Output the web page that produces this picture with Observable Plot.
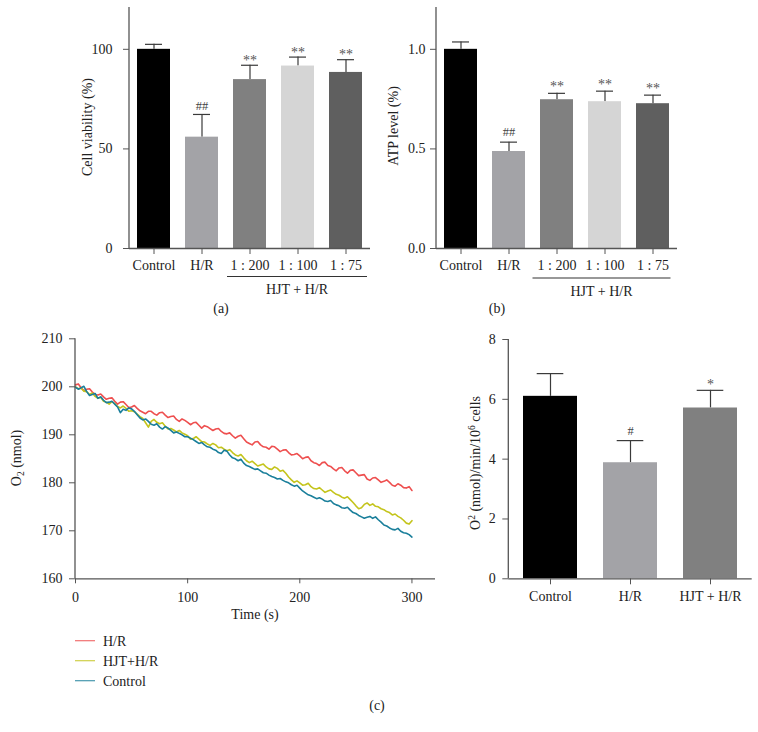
<!DOCTYPE html>
<html><head><meta charset="utf-8">
<script src="https://cdn.jsdelivr.net/npm/d3@7"></script>
<script src="https://cdn.jsdelivr.net/npm/@observablehq/plot@0.6"></script>
<style>
body{margin:0;background:#fff;}
#fig{position:relative;width:758px;height:732px;font-family:"Liberation Serif","Times New Roman",serif;color:#222;overflow:hidden;background:#fff;}
.panel{position:absolute;}
.lab{position:absolute;font-size:14px;transform:translate(-50%,-50%);white-space:nowrap;color:#222;}
</style></head><body><div id="fig"></div>
<script>
// ---------- data ----------
const barCats = ["Control", "H/R", "1 : 200", "1 : 100", "1 : 75"];
const barColors = ["#000000", "#a3a3a7", "#808080", "#d5d5d5", "#5f5f5f"];
const viability = [100, 55.9, 84.8, 91.6, 88.4];
const viabilityErr = [102.5, 67.3, 92.0, 96.1, 94.8];
const viabilitySig = ["", "##", "**", "**", "**"];
const atp = [1.0, 0.487, 0.747, 0.737, 0.727];
const atpErr = [1.037, 0.534, 0.779, 0.79, 0.77];
const atpSig = ["", "##", "**", "**", "**"];
const groupLabel = "HJT + H/R";

const o2Cats = ["Control", "H/R", "HJT + H/R"];
const o2Colors = ["#000000", "#a3a3a7", "#808080"];
const o2Rate = [6.1, 3.88, 5.71];
const o2RateErr = [6.86, 4.62, 6.3];
const o2Sig = ["", "#", "*"];

const timeS = [0,2.5,5,7.5,10,12.5,15,17.5,20,22.5,
  25,27.5,30,32.5,35,37.5,40,42.5,45,47.5,
  50,52.5,55,57.5,60,62.5,65,67.5,70,72.5,
  75,77.5,80,82.5,85,87.5,90,92.5,95,97.5,
  100,102.5,105,107.5,110,112.5,115,117.5,120,122.5,
  125,127.5,130,132.5,135,137.5,140,142.5,145,147.5,
  150,152.5,155,157.5,160,162.5,165,167.5,170,172.5,
  175,177.5,180,182.5,185,187.5,190,192.5,195,197.5,
  200,202.5,205,207.5,210,212.5,215,217.5,220,222.5,
  225,227.5,230,232.5,235,237.5,240,242.5,245,247.5,
  250,252.5,255,257.5,260,262.5,265,267.5,270,272.5,
  275,277.5,280,282.5,285,287.5,290,292.5,295,297.5,
  300];
const o2HR = [200.4,200.6,199.8,199.2,199.5,199.6,198.9,198.4,198.3,198.5,
  197.9,197.4,197.6,197.7,197.0,196.4,196.8,196.9,196.3,195.7,
  195.8,196.1,195.5,195.0,194.7,194.4,194.9,194.9,194.4,194.1,
  194.6,194.7,194.1,193.6,193.8,193.9,193.2,192.8,193.3,193.0,
  192.6,192.1,192.5,192.6,192.0,191.4,191.9,191.7,191.3,190.9,
  191.2,191.3,190.7,190.3,190.2,190.4,189.8,189.3,189.7,189.9,
  189.2,188.5,188.2,187.9,188.5,188.6,187.9,187.5,187.4,187.0,
  187.6,187.5,187.0,186.5,186.8,186.9,186.3,185.8,185.9,186.1,
  185.6,185.0,185.3,185.4,184.6,184.2,184.0,183.6,184.2,184.3,
  183.6,183.4,182.9,182.5,183.1,183.2,182.5,182.0,182.6,182.7,
  182.1,181.5,181.6,181.7,180.8,180.5,181.0,181.1,180.6,180.1,
  180.3,180.6,180.1,179.5,179.3,179.8,179.5,179.0,178.9,179.2,
  178.4];
const o2HJT = [200.0,199.6,199.7,199.1,199.0,198.4,198.7,198.0,197.6,197.8,
  197.0,196.8,196.4,196.9,196.5,195.9,195.6,196.0,195.5,194.9,
  195.0,194.8,194.3,193.8,193.4,192.5,191.6,192.8,193.2,192.6,
  192.3,192.5,191.8,191.2,191.3,191.0,190.6,190.9,190.4,190.1,
  189.8,189.1,189.2,189.6,189.1,188.6,188.5,188.1,187.8,188.2,
  187.9,187.3,187.4,187.0,186.7,186.9,186.3,185.8,185.6,185.9,
  185.2,184.6,184.2,184.5,184.0,183.5,183.7,183.9,183.3,182.9,
  182.8,183.3,183.0,182.4,182.6,182.0,181.2,180.6,180.1,180.4,
  180.0,179.5,179.6,179.9,179.2,178.8,178.7,179.0,178.5,178.0,
  178.3,178.5,178.0,177.6,177.4,177.0,176.8,177.1,176.5,175.9,
  175.2,174.6,174.8,175.5,175.8,175.3,175.6,175.1,175.0,174.6,
  174.4,174.0,173.8,173.3,173.5,173.0,172.7,172.2,171.6,171.4,
  172.1];
const o2Control = [199.9,199.5,199.8,200.1,199.0,198.2,198.4,198.6,197.6,197.9,
  197.2,196.7,196.8,197.0,196.4,195.8,194.6,195.3,195.1,195.6,
  195.4,194.9,194.2,193.5,193.1,193.3,192.8,192.2,192.0,192.3,
  191.6,191.2,191.7,191.4,190.9,190.4,190.6,190.3,190.0,189.6,
  189.6,189.3,189.0,188.6,188.2,188.4,187.9,187.5,187.4,187.0,
  186.8,186.3,186.1,186.8,186.6,185.8,185.2,185.0,184.6,184.9,
  184.1,183.6,183.4,183.1,182.8,182.9,182.5,182.1,182.0,181.6,
  181.3,181.1,180.8,180.9,180.5,180.2,180.0,179.6,179.3,179.5,
  178.9,178.3,177.9,177.5,177.3,177.0,176.7,176.9,176.6,176.2,
  176.1,176.3,175.7,175.4,175.2,174.8,174.7,174.9,174.3,173.8,
  173.6,173.2,172.9,172.6,172.8,173.0,172.6,172.9,172.3,171.8,
  171.2,171.0,170.6,170.3,170.2,170.5,169.9,169.6,169.5,169.2,
  168.7];
const lineSeries = ["H/R", "HJT+H/R", "Control"];
const lineColors = ["#ee4f4f", "#c4c41c", "#1a7f9b"];
const timeTicks = [0, 100, 200, 300];
const o2Ticks = [160, 170, 180, 190, 200, 210];

// ---------- helpers ----------
const FONT = '"Liberation Serif","Times New Roman",serif';
const FS = "14px";
const AXIS = "#555";
const fig = document.getElementById("fig");

function place(node, left, top) {
  const d = document.createElement("div");
  d.className = "panel";
  d.style.left = left + "px";
  d.style.top = top + "px";
  d.appendChild(node);
  fig.appendChild(d);
}
function label(text, x, y) {
  const d = document.createElement("div");
  d.className = "lab";
  d.style.left = x + "px";
  d.style.top = y + "px";
  d.textContent = text;
  fig.appendChild(d);
}
function yTitle(svg, cx, cy, parts) {
  const t = svg.append("text")
    .attr("transform", `translate(${cx + 5},${cy}) rotate(-90)`)
    .attr("text-anchor", "middle")
    .attr("fill", "#222")
    .style("font-family", FONT)
    .style("font-size", FS);
  let shift = 0;
  for (const p of parts) {
    const s = t.append("tspan").text(p.t);
    const target = p.sup ? -5 : p.sub ? 3 : 0;
    if (target !== shift) { s.attr("dy", target - shift); shift = target; }
    if (p.sup || p.sub) s.style("font-size", "9.5px");
  }
}
function leftLine(plot, ml, yDomain) {
  const ys = plot.scale("y");
  d3.select(plot).append("line")
    .attr("x1", ml).attr("x2", ml)
    .attr("y1", ys.apply(yDomain[1])).attr("y2", ys.apply(yDomain[0]))
    .attr("stroke", AXIS).attr("stroke-width", 1.3);
}

function barPanel(o) {
  const data = o.cats.map((c, i) => ({cat: c, v: o.vals[i], e: o.errs[i], s: o.sig[i], col: o.colors[i]}));
  const plot = Plot.plot({
    width: o.width, height: o.height,
    marginLeft: o.ml, marginRight: o.mr, marginTop: o.mt, marginBottom: o.mb,
    style: {fontFamily: FONT, fontSize: FS, color: "#333", background: "transparent", overflow: "visible"},
    x: {domain: o.cats, paddingInner: o.pi, paddingOuter: o.po, label: null},
    y: {domain: o.yDomain, label: null},
    color: {type: "identity"},
    marks: [
      Plot.ruleX(data, {x: "cat", y1: "v", y2: "e", stroke: "#3a3a3a", strokeWidth: 1.2}),
      Plot.tickY(data, {x: "cat", y: "e", stroke: "#3a3a3a", strokeWidth: 1.2, insetLeft: o.cap, insetRight: o.cap}),
      Plot.barY(data, {x: "cat", y: "v", fill: "col"}),
      Plot.text(data.filter(d => d.s.startsWith("#")), {x: "cat", y: "e", text: "s", dy: o.hashDy, fill: "#444", fontSize: 12.5}),
      Plot.text(data.filter(d => d.s.startsWith("*")), {x: "cat", y: "e", text: "s", dy: o.starDy, fill: "#555", fontSize: 14}),
      Plot.ruleY([o.yDomain[0]], {stroke: AXIS, strokeWidth: 1.3}),
      Plot.axisY({ticks: o.yTicks, tickFormat: o.yFormat, tickSize: 6, tickPadding: o.tickPad, label: null, stroke: AXIS, fill: "#222"}),
      Plot.axisX({tickSize: 6, tickPadding: 6, label: null, stroke: AXIS, fill: "#222"})
    ]
  });
  leftLine(plot, o.ml, o.yDomain);
  const svg = d3.select(plot);
  yTitle(svg, o.titleX, o.titleY, o.title);
  if (o.bracket) {
    const xs = plot.scale("x");
    const x1 = xs.apply(o.bracket[0]) - o.bracketPad[0];
    const x2 = xs.apply(o.bracket[1]) + xs.bandwidth + o.bracketPad[1];
    svg.append("line").attr("x1", x1).attr("x2", x2).attr("y1", o.bracketY).attr("y2", o.bracketY)
      .attr("stroke", "#333").attr("stroke-width", 1.1);
    svg.append("text").attr("x", (x1 + x2) / 2).attr("y", o.bracketY + 17.5)
      .attr("text-anchor", "middle").attr("fill", "#222")
      .style("font-family", FONT).style("font-size", FS).text(groupLabel);
  }
  return plot;
}

// ---------- panel (a) ----------
place(barPanel({
  cats: barCats, colors: barColors, vals: viability, errs: viabilityErr, sig: viabilitySig,
  yDomain: [0, 121], yTicks: [0, 50, 100], yFormat: d3.format("d"),
  width: 320, height: 300, ml: 69, mr: 10, mt: 7, mb: 52, pi: 0.31, po: 0.165, cap: 8, tickPad: 11,
  hashDy: -8, starDy: -5,
  title: [{t: "Cell viability (%)"}], titleX: 27, titleY: 127,
  bracket: ["1 : 200", "1 : 75"], bracketPad: [6, 5], bracketY: 276.5
}), 60, 0);

// ---------- panel (b) ----------
place(barPanel({
  cats: barCats, colors: barColors, vals: atp, errs: atpErr, sig: atpSig,
  yDomain: [0, 1.21], yTicks: [0, 0.5, 1.0], yFormat: d3.format(".1f"),
  width: 310, height: 300, ml: 56, mr: 13, mt: 7, mb: 52, pi: 0.32, po: 0.17, cap: 8, tickPad: 5,
  hashDy: -10, starDy: -7,
  title: [{t: "ATP level (%)"}], titleX: 13, titleY: 126,
  bracket: ["1 : 200", "1 : 75"], bracketPad: [7.5, 1.5], bracketY: 278
}), 380, 0);

// ---------- panel (c) line chart ----------
(function () {
  const series = [o2HR, o2HJT, o2Control];
  const marks = series.map((vals, k) =>
    Plot.line(timeS.map((t, i) => ({t, v: vals[i]})), {x: "t", y: "v", stroke: lineColors[k], strokeWidth: 1.6})
  );
  const plot = Plot.plot({
    width: 450, height: 310,
    marginLeft: 75, marginRight: 15, marginTop: 18.3, marginBottom: 51.7,
    style: {fontFamily: FONT, fontSize: FS, color: "#333", background: "transparent", overflow: "visible"},
    x: {domain: [0, 321], label: null},
    y: {domain: [160, 210], label: null},
    marks: [
      ...marks,
      Plot.ruleY([160], {stroke: AXIS, strokeWidth: 1.3}),
      Plot.axisY({ticks: o2Ticks, tickSize: 6, tickPadding: 7, label: null, stroke: AXIS, fill: "#222"}),
      Plot.axisX({ticks: timeTicks, tickSize: 5, tickPadding: 8, label: null, stroke: AXIS, fill: "#222"})
    ]
  });
  leftLine(plot, 75, [160, 210]);
  const svg = d3.select(plot);
  yTitle(svg, 16, 138, [{t: "O"}, {t: "2", sub: true}, {t: " (nmol)"}]);
  svg.append("text").attr("x", 255).attr("y", 298.5).attr("text-anchor", "middle").attr("fill", "#222")
    .style("font-family", FONT).style("font-size", FS).text("Time (s)");
  place(plot, 0, 320);
})();

// ---------- panel (d) ----------
place(barPanel({
  cats: o2Cats, colors: o2Colors, vals: o2Rate, errs: o2RateErr, sig: o2Sig,
  yDomain: [0, 8], yTicks: [0, 2, 4, 6, 8], yFormat: d3.format("d"),
  width: 308, height: 300, ml: 58.3, mr: 6.3, mt: 19, mb: 41.7, pi: 0.325, po: 0.17, cap: 13.7, tickPad: 7,
  hashDy: -10, starDy: -6,
  title: [{t: "O"}, {t: "2", sup: true}, {t: " (nmol)/min/10"}, {t: "6", sup: true}, {t: " cells"}], titleX: 25, titleY: 143
}), 450, 320);

// ---------- legend for (c) ----------
(function () {
  const svg = d3.create("svg").attr("width", 200).attr("height", 70)
    .style("font-family", FONT).style("font-size", FS);
  lineSeries.forEach((name, i) => {
    const y = 10.7 + i * 20;
    svg.append("line").attr("x1", 5).attr("x2", 25).attr("y1", y).attr("y2", y)
      .attr("stroke", lineColors[i]).attr("stroke-width", 1.2).attr("opacity", 0.8);
    svg.append("text").attr("x", 33).attr("y", y + 5).attr("fill", "#222").text(name);
  });
  place(svg.node(), 70, 630);
})();

// ---------- panel letters ----------
label("(a)", 221, 309);
label("(b)", 497, 309);
label("(c)", 377, 706);
</script></body></html>
